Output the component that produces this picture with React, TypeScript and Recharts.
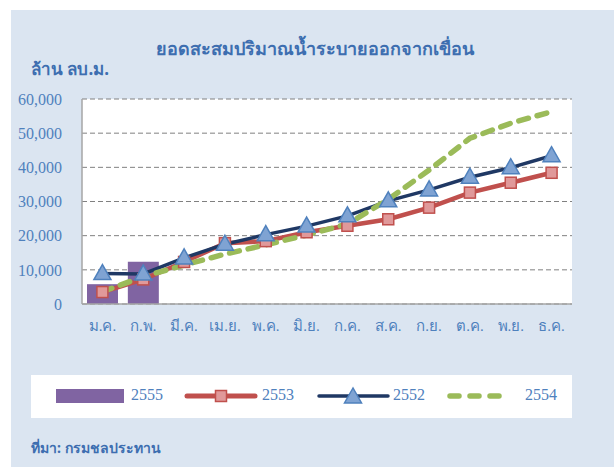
import React from "react"
import {
  Bar,
  CartesianGrid,
  ComposedChart,
  Legend,
  Line,
  XAxis,
  YAxis,
} from "recharts"

const months = ["ม.ค.", "ก.พ.", "มี.ค.", "เม.ย.", "พ.ค.", "มิ.ย.", "ก.ค.", "ส.ค.", "ก.ย.", "ต.ค.", "พ.ย.", "ธ.ค."]
const y2555 = [5800, 12400, null, null, null, null, null, null, null, null, null, null]
const y2553 = [3500, 7200, 12300, 17800, 18400, 21000, 22900, 24800, 28200, 32600, 35500, 38400]
const y2552 = [8900, 8800, 13500, 17500, 20300, 22800, 25800, 30200, 33400, 37100, 39900, 43400]
const y2554 = [3600, 8000, 11400, 14600, 17300, 20200, 23400, 30600, 39200, 48500, 52900, 56300]
const yTicks = [0, 10000, 20000, 30000, 40000, 50000, 60000]

const data = months.map((m, i) => ({
  month: m,
  y2555: y2555[i],
  y2553: y2553[i],
  y2552: y2552[i],
  y2554: y2554[i],
}))

const BLUE_TEXT = "#4f81bd"
const SERIF = "'Liberation Serif', 'DejaVu Serif', serif"
const THAI = "'Noto Sans', 'DejaVu Sans', sans-serif"

function Square(props: any) {
  const { cx, cy } = props
  if (cx == null || cy == null) return null
  return <rect x={cx - 5.5} y={cy - 5.5} width={11} height={11} fill="#e0999a" stroke="#c0504d" strokeWidth={1.5} />
}

function Triangle(props: any) {
  const { cx, cy } = props
  if (cx == null || cy == null) return null
  const pts = `${cx},${cy - 9} ${cx - 8.5},${cy + 6} ${cx + 8.5},${cy + 6}`
  return <polygon points={pts} fill="#7fa3d3" stroke="#4f81bd" strokeWidth={1.5} />
}

function LegendBox() {
  const txt = { position: "absolute" as const, top: 11, fontFamily: SERIF, fontSize: 16, color: BLUE_TEXT }
  return (
    <div style={{ position: "relative", width: 541, height: 43, background: "#fff" }}>
      <div style={{ position: "absolute", left: 25, top: 14, width: 68, height: 14, background: "#8064a2" }} />
      <span style={{ ...txt, left: 100 }}>2555</span>
      <svg style={{ position: "absolute", left: 152, top: 11 }} width={76} height={20}>
        <line x1={4} y1={10} x2={72} y2={10} stroke="#c0504d" strokeWidth={5} strokeLinecap="round" />
        <Square cx={38} cy={10} />
      </svg>
      <span style={{ ...txt, left: 231 }}>2553</span>
      <svg style={{ position: "absolute", left: 285, top: 11 }} width={76} height={22}>
        <line x1={3} y1={10} x2={72} y2={10} stroke="#1f3864" strokeWidth={3.5} strokeLinecap="round" />
        <Triangle cx={37} cy={11} />
      </svg>
      <span style={{ ...txt, left: 362 }}>2552</span>
      <svg style={{ position: "absolute", left: 414, top: 11 }} width={70} height={20}>
        <line x1={5} y1={10} x2={64} y2={10} stroke="#9bbb59" strokeWidth={5.5} strokeDasharray="9 11" strokeLinecap="round" />
      </svg>
      <span style={{ ...txt, left: 494 }}>2554</span>
    </div>
  )
}

export default function App() {
  return (
    <div style={{ position: "absolute", left: 0, top: 0, width: 614, height: 467, background: "#fff", overflow: "hidden" }}>
      <div style={{ position: "absolute", left: 11, top: 10, right: 0, bottom: 0, background: "#dbe5f1" }} />
      <div style={{ position: "absolute", left: 0, width: 630, top: 34, textAlign: "center", fontFamily: THAI, fontWeight: 700, fontSize: 18, color: "#3d6eb0" }}>
        ยอดสะสมปริมาณน้ำระบายออกจากเขื่อน
      </div>
      <div style={{ position: "absolute", left: 31, top: 55, fontFamily: THAI, fontWeight: 700, fontSize: 17, color: "#3d6eb0" }}>
        ล้าน ลบ.ม.
      </div>
      <div style={{ position: "absolute", left: 31, top: 437, fontFamily: THAI, fontWeight: 700, fontSize: 14, color: "#3d6eb0" }}>
        ที่มา: กรมชลประทาน
      </div>
      <ComposedChart
        width={614}
        height={467}
        data={data}
        margin={{ top: 99, right: 42, bottom: 133, left: 0 }}
        style={{ position: "absolute", left: 0, top: 0 }}
      >
        <CartesianGrid vertical={false} stroke="#808080" strokeDasharray="5 3" fill="#ffffff" />
        <XAxis
          dataKey="month"
          height={30}
          tickLine={false}
          tickSize={0}
          tickMargin={16}
          axisLine={{ stroke: "#a6a6a6", strokeWidth: 1.5 }}
          tick={{ fontSize: 15, fill: BLUE_TEXT, fontFamily: SERIF }}
          interval={0}
        />
        <YAxis
          width={82}
          domain={[0, 60000]}
          ticks={yTicks}
          tickLine={false}
          tickSize={0}
          tickMargin={20}
          axisLine={{ stroke: "#a6a6a6", strokeWidth: 1.5 }}
          tickFormatter={(v: number) => v.toLocaleString("en-US")}
          tick={{ fontSize: 16, fill: BLUE_TEXT, fontFamily: SERIF }}
        />
        <YAxis
          yAxisId="right"
          orientation="right"
          width={0}
          tick={false}
          tickLine={false}
          axisLine={{ stroke: "#a6a6a6", strokeWidth: 1.5 }}
        />
        <Legend
          layout="horizontal"
          verticalAlign="middle"
          align="center"
          wrapperStyle={{ left: 31, top: 375, width: 541, height: 43 }}
          content={() => <LegendBox />}
        />
        <Bar dataKey="y2555" name="2555" fill="#8064a2" barSize={31} isAnimationActive={false} />
        <Line dataKey="y2553" name="2553" stroke="#c0504d" strokeWidth={4.5} dot={<Square />} isAnimationActive={false} />
        <Line dataKey="y2552" name="2552" stroke="#1f3864" strokeWidth={3.5} dot={<Triangle />} isAnimationActive={false} />
        <Line dataKey="y2554" name="2554" stroke="#9bbb59" strokeWidth={5.5} strokeDasharray="10 9" strokeLinecap="round" dot={false} isAnimationActive={false} />
      </ComposedChart>
    </div>
  )
}
